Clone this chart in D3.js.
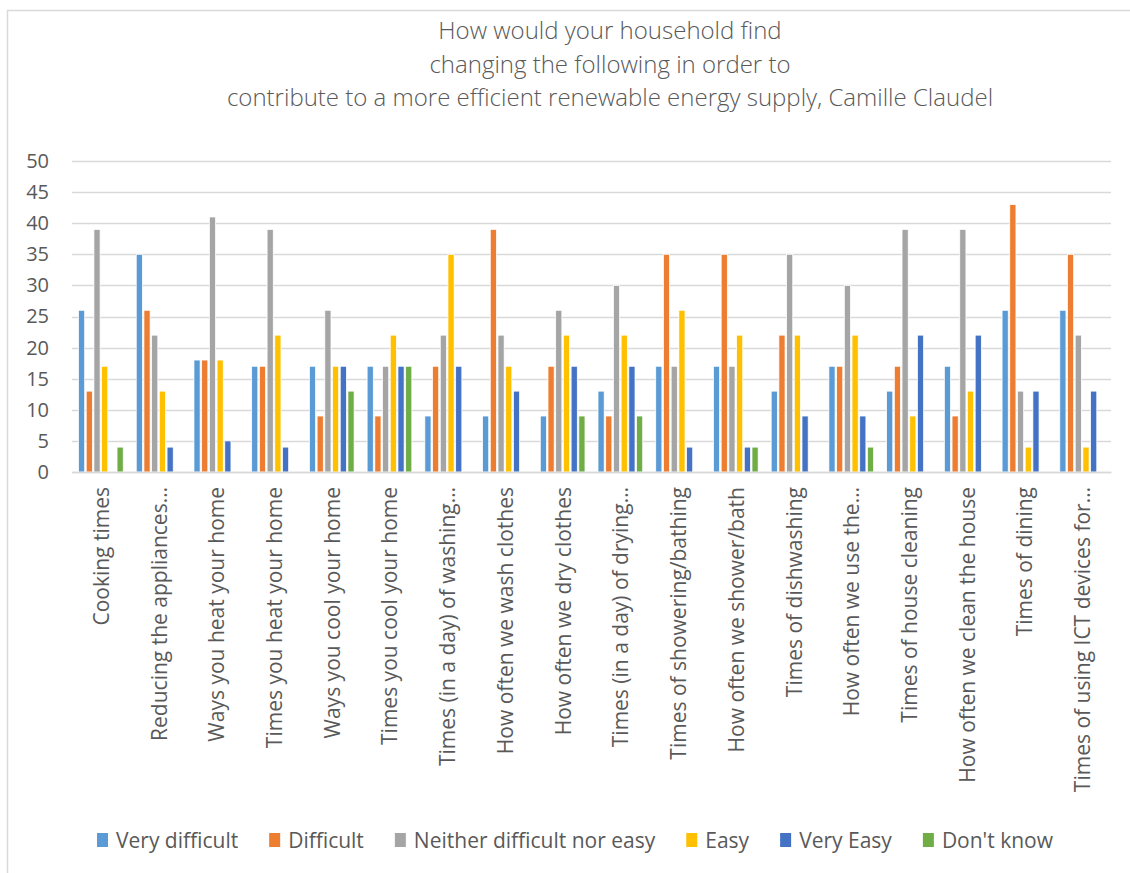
<!DOCTYPE html>
<html>
<head>
<meta charset="utf-8">
<script src="https://cdn.jsdelivr.net/npm/d3@7"></script>
<style>
  html, body { margin: 0; padding: 0; background: #fff; }
  svg { display: block; }
  text { font-family: "Open Sans", "DejaVu Sans", sans-serif; fill: #595959; }
</style>
</head>
<body>
<svg id="chart" width="1130" height="873"></svg>
<script>
const titleLines = [
  "How would your household find",
  "changing the following in order to",
  "contribute to a more efficient renewable energy supply, Camille Claudel"
];
const categories = [
  "Cooking times",
  "Reducing the appliances…",
  "Ways you heat your home",
  "Times you heat your home",
  "Ways you cool your home",
  "Times you cool your home",
  "Times (in a day) of washing…",
  "How often we wash clothes",
  "How often we dry clothes",
  "Times (in a day) of drying…",
  "Times of showering/bathing",
  "How often we shower/bath",
  "Times of dishwashing",
  "How often we use the…",
  "Times of house cleaning",
  "How often we clean the house",
  "Times of dining",
  "Times of using ICT devices for…"
];
const seriesNames = ["Very difficult", "Difficult", "Neither difficult nor easy", "Easy", "Very Easy", "Don't know"];
const veryDifficult = [26, 35, 18, 17, 17, 17, 9, 9, 9, 13, 17, 17, 13, 17, 13, 17, 26, 26];
const difficult     = [13, 26, 18, 17, 9, 9, 17, 39, 17, 9, 35, 35, 22, 17, 17, 9, 43, 35];
const neither       = [39, 22, 41, 39, 26, 17, 22, 22, 26, 30, 17, 17, 35, 30, 39, 39, 13, 22];
const easy          = [17, 13, 18, 22, 17, 22, 35, 17, 22, 22, 26, 22, 22, 22, 9, 13, 4, 4];
const veryEasy      = [0, 4, 5, 4, 17, 17, 17, 13, 17, 17, 4, 4, 9, 9, 22, 22, 13, 13];
const dontKnow      = [4, 0, 0, 0, 13, 17, 0, 0, 9, 9, 0, 4, 0, 4, 0, 0, 0, 0];
const seriesColors = ["#5B9BD5", "#ED7D31", "#A5A5A5", "#FFC000", "#4472C4", "#70AD47"];
const yTicks = [0, 5, 10, 15, 20, 25, 30, 35, 40, 45, 50];

const seriesValues = [veryDifficult, difficult, neither, easy, veryEasy, dontKnow];

const svg = d3.select("#chart");

// chart border
svg.append("rect")
  .attr("x", 7.5).attr("y", 10.5)
  .attr("width", 1140).attr("height", 880)
  .attr("fill", "none").attr("stroke", "#D9D9D9").attr("stroke-width", 1.5);

const plot = { left: 72, right: 1111, top: 161, bottom: 472 };

const y = d3.scaleLinear().domain([0, 50]).range([plot.bottom, plot.top]);
const x0 = d3.scaleBand().domain(categories).range([plot.left, plot.right]).padding(0);
const x1 = d3.scaleBand().domain(seriesNames).range([0, x0.bandwidth()])
  .paddingInner(0.2).paddingOuter(0.845);
const color = d3.scaleOrdinal().domain(seriesNames).range(seriesColors);

// gridlines
svg.append("g")
  .selectAll("line")
  .data(yTicks)
  .join("line")
  .attr("x1", plot.left).attr("x2", plot.right)
  .attr("y1", d => Math.round(y(d)) + 0.5).attr("y2", d => Math.round(y(d)) + 0.5)
  .attr("stroke", "#D9D9D9").attr("stroke-width", 1.5);

// y axis labels
const yAxis = d3.axisLeft(y).tickValues(yTicks).tickSize(0).tickPadding(0);
const yg = svg.append("g").attr("transform", `translate(${plot.left - 23},0)`).call(yAxis);
yg.select(".domain").remove();
yg.selectAll("text").style("font-size", "20px").style("fill", "#595959")
  .style("font-family", "'Open Sans', sans-serif");

// bars
const groups = svg.append("g")
  .selectAll("g")
  .data(categories)
  .join("g")
  .attr("transform", d => `translate(${x0(d)},0)`);

groups.selectAll("rect")
  .data((c, i) => seriesNames.map((s, j) => ({ s, v: seriesValues[j][i] })).filter(d => d.v > 0))
  .join("rect")
  .attr("x", d => x1(d.s))
  .attr("y", d => y(d.v))
  .attr("width", x1.bandwidth())
  .attr("height", d => y(0) - y(d.v))
  .attr("fill", d => color(d.s))
  .attr("stroke", "#fff").attr("stroke-width", 0.75);

// x axis
const xAxis = d3.axisBottom(x0).tickSize(0).tickPadding(0);
const xg = svg.append("g").attr("transform", `translate(0,${plot.bottom})`).call(xAxis);
xg.select(".domain").attr("stroke", "#D9D9D9").attr("stroke-width", 1.5);
xg.selectAll(".tick text")
  .attr("transform", "translate(8,15) rotate(-90)")
  .attr("x", 0).attr("y", 0).attr("dy", 0)
  .attr("text-anchor", "end")
  .style("font-size", "21px").style("fill", "#595959")
  .style("font-family", "'Open Sans', sans-serif");

// title
svg.append("g")
  .selectAll("text")
  .data(titleLines)
  .join("text")
  .attr("x", 610)
  .attr("y", (d, i) => 39 + i * 33.5)
  .attr("text-anchor", "middle")
  .style("font-size", "24px")
  .style("font-weight", 300)
  .text(d => d);

// legend
const legend = svg.append("g").attr("transform", "translate(97,0)");
let lx = 0;
seriesNames.forEach((name, i) => {
  const g = legend.append("g").attr("transform", `translate(${lx},0)`);
  g.append("rect").attr("x", 0).attr("y", 833).attr("width", 11).attr("height", 14)
    .attr("fill", seriesColors[i]);
  const t = g.append("text").attr("x", 19).attr("y", 848)
    .style("font-size", "21px").text(name);
  const w = t.node().getComputedTextLength();
  lx += 19 + w + 31;
});
</script>
</body>
</html>
